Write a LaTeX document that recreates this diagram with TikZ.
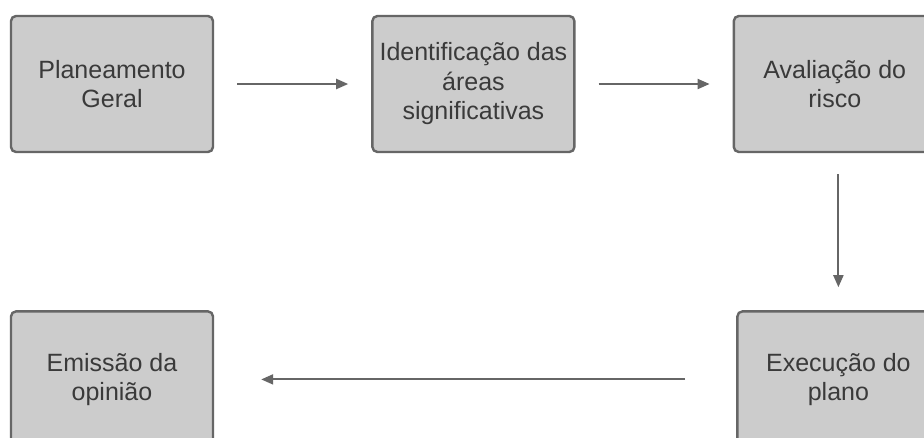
\documentclass[tikz,border=0pt]{standalone}
\usepackage{fontspec}
\setmainfont{Liberation Sans}
\usetikzlibrary{positioning,arrows.meta}
\definecolor{boxfill}{HTML}{CCCCCC}
\definecolor{boxline}{HTML}{666666}
\definecolor{textgray}{HTML}{3A3A3A}

\begin{document}
\begin{tikzpicture}[
    x=1pt, y=1pt,
    node distance=157pt and 157pt,
    box/.style={draw=boxline, line width=2.4pt, fill=boxfill, rounded corners=5pt,
        minimum width=202pt, minimum height=136pt, align=center, text=textgray,
        font=\fontsize{25}{29.5}\selectfont},
    arrow/.style={-{Triangle[length=12pt,width=10pt]}, line width=2pt, draw=boxline}
]
\useasboundingbox (0,0) rectangle (924,-437);
\fill[white] (0,0) rectangle (924,-437);
\node[box] (plan) at (112,-84) {Planeamento\\Geral};
\node[box, right=of plan] (areas) {Identificação das\\áreas\\significativas};
\node[box, right=of areas] (risco) {Avaliação do\\risco};
\node[box, below=of plan] (opiniao) {Emissão da\\opinião};
\node[box, right=522pt of opiniao] (exec) {Execução do\\plano};

\draw[arrow, shorten <=23pt, shorten >=23pt] (plan) -- (areas);
\draw[arrow, shorten <=23pt, shorten >=23pt] (areas) -- (risco);
\draw[arrow, shorten <=21pt, shorten >=23pt] (risco.south -| exec.north) -- (exec.north);
\draw[arrow, shorten <=51pt, shorten >=47pt] (exec) -- (opiniao);
\end{tikzpicture}
\end{document}
